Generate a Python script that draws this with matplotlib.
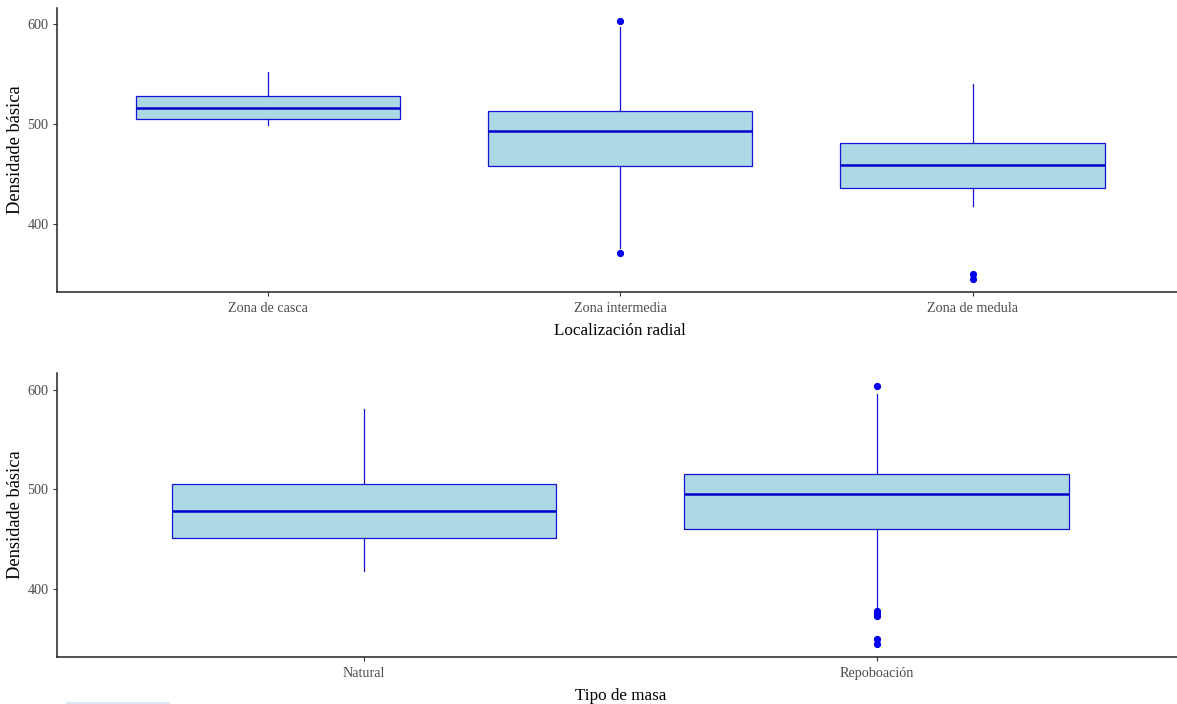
import matplotlib
matplotlib.use("Agg")
import matplotlib.pyplot as plt
from matplotlib.patches import Rectangle

plt.rcParams['font.family'] = ['Liberation Serif', 'DejaVu Serif']

# ---- data ----
zone_labels = ["Zona de casca", "Zona intermedia", "Zona de medula"]
zone_q1 = [504.5, 457.6, 435.5]
zone_med = [516.3, 492.8, 459.3]
zone_q3 = [527.6, 512.9, 480.4]
zone_lo = [498.5, 375.6, 418.1]
zone_hi = [551.5, 596.7, 539.7]
zone_fliers = [[], [603.0, 371.0], [350.3, 345.0]]

mass_labels = ["Natural", "Repoboación"]
mass_q1 = [450.8, 460.4]
mass_med = [478.1, 495.7]
mass_q3 = [505.2, 514.9]
mass_lo = [418.0, 380.7]
mass_hi = [580.6, 596.0]
mass_fliers = [[], [603.4, 377.5, 375.5, 373.0, 350.3, 345.0]]

W, H = 1177, 704
DPI = 100
fig = plt.figure(figsize=(W / DPI, H / DPI), dpi=DPI)
fig.patch.set_facecolor("white")

EDGE = "#1414d2"
MED = "#0000cc"
FILL = "#add8e6"
TXT = "#4d4d4d"


def px_axes(left, top, right, bottom):
    return fig.add_axes([left / W, 1 - bottom / H, (right - left) / W, (bottom - top) / H])


def draw_panel(ax, labels, q1, med, q3, lo, hi, fliers, xtitle):
    stats = []
    for i, lab in enumerate(labels):
        stats.append(dict(label=lab, q1=q1[i], med=med[i], q3=q3[i],
                          whislo=lo[i], whishi=hi[i], fliers=fliers[i]))
    n = len(labels)
    ax.bxp(stats, positions=list(range(1, n + 1)), widths=0.75,
           patch_artist=True, showcaps=False, showfliers=True,
           boxprops=dict(facecolor=FILL, edgecolor=EDGE, linewidth=0.9),
           medianprops=dict(color=MED, linewidth=1.8, solid_capstyle="butt"),
           whiskerprops=dict(color=EDGE, linewidth=0.9),
           flierprops=dict(marker="o", markersize=4.2, markerfacecolor="#0000ee",
                           markeredgecolor="#0000ee", linestyle="none"))
    allv = [v for arr in (lo, hi) for v in arr] + [v for f in fliers for v in f]
    vmin, vmax = min(allv), max(allv)
    r = vmax - vmin
    ax.set_ylim(vmin - 0.05 * r, vmax + 0.05 * r)
    ax.set_xlim(0.4, n + 0.6)
    ax.set_yticks([400, 500, 600])
    for s in ("top", "right"):
        ax.spines[s].set_visible(False)
    for s in ("left", "bottom"):
        ax.spines[s].set_color("#222222")
        ax.spines[s].set_linewidth(1.1)
    ax.tick_params(axis="both", colors="#333333", length=3.2, width=0.8,
                   labelsize=10.2, labelcolor=TXT, pad=2.5)
    ax.tick_params(axis="x", pad=4.5)
    ax.set_xticks(list(range(1, n + 1)))
    ax.set_xticklabels(labels)
    ax.set_xlabel(xtitle, fontsize=12.3, color="black", labelpad=5.5)
    ax.set_ylabel("Densidade básica", fontsize=13.3, color="black")
    ax.yaxis.label.set_va("center")
    ax.yaxis.set_label_coords(-0.0365, 0.5)


ax1 = px_axes(56.5, 8, 1184, 291.7)
draw_panel(ax1, zone_labels, zone_q1, zone_med, zone_q3, zone_lo, zone_hi,
           zone_fliers, "Localización radial")

ax2 = px_axes(56.5, 373.3, 1184, 656.7)
draw_panel(ax2, mass_labels, mass_q1, mass_med, mass_q3, mass_lo, mass_hi,
           mass_fliers, "Tipo de masa")

# faint light-blue strip at the bottom edge of the screenshot
fig.patches.append(Rectangle((66 / W, 0), (170 - 66) / W, 2.5 / H,
                             transform=fig.transFigure, facecolor="#dce6f4",
                             edgecolor="none"))

fig.savefig("out.png", dpi=DPI, facecolor="white")
